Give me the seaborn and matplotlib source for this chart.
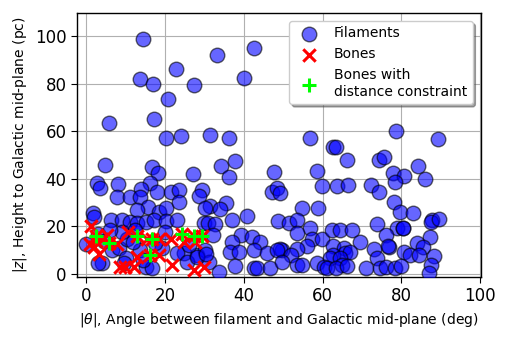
import numpy as np
import pandas as pd
import matplotlib
matplotlib.use("Agg")
import matplotlib.pyplot as plt
import seaborn as sns

# Filaments: |theta| (deg), |z| (pc)
fil_theta = [
    14.5, 42.5, 33.1, 22.8, 13.7, 17.1, 27.3, 40.0, 20.9, 17.2, 5.8, 20.3, 24.1, 31.5, 36.3, 56.7, 89.2, 78.7, 62.6, 63.5,
    4.7, 16.8, 18.3, 27.2, 34.2, 37.7, 36.3, 47.6, 66.1, 58.5, 74.3, 75.7, 84.2, 77.9, 80.6, 78.5, 86.0,
    2.8, 3.5, 8.2, 16.3, 14.0, 18.0, 21.6, 23.5, 29.4, 28.6, 47.1, 48.5, 49.2, 59.9, 63.8, 66.4, 72.2, 74.3,
    7.9, 11.1, 13.8, 15.7, 12.9, 18.5, 20.2, 23.5, 31.4, 30.3, 35.4, 34.1, 54.8, 58.8, 78.1, 79.6, 83.0,
    1.8, 2.1, 6.2, 9.1, 11.2, 12.9, 15.1, 17.3, 20.2, 23.1, 29.8, 31.0, 32.6, 37.1, 40.9, 48.7, 51.4, 53.4, 56.9,
    73.9, 87.8, 87.6, 89.5, 78.9, 80.5, 80.3,
    32.3, 39.4, 42.2, 44.2, 37.1, 53.6, 57.4, 59.9, 62.4, 64.5, 67.5, 69.5, 56.1, 53.4, 49.7, 49.2, 62.7, 65.4,
    76.0, 87.4, 76.8, 76.6, 84.0, 85.5, 73.0,
    36.6, 38.7, 42.6, 45.9, 48.5, 28.2, 30.3, 24.8, 31.1, 37.9, 42.6, 43.4, 46.8, 33.7, 52.0, 65.8, 67.1, 62.7,
    62.0, 64.5, 65.0, 73.9, 49.7, 53.6, 54.8, 58.5, 60.4, 61.2, 63.3, 66.2, 71.1, 74.6, 80.6, 82.3, 84.4, 88.4,
    76.0, 78.5, 79.8, 87.6, 87.0,
    0.0, 3.0, 4.5, 6.5, 8.3, 10.5, 13.6, 12.0, 10.2, 4.1, 3.1, 9.6, 15.1, 16.8, 14.5, 19.3, 23.0, 17.5, 20.0,
    9.0, 25.6, 28.2, 30.5, 26.0, 12.5, 6.0,
]
fil_z = [
    99.0, 95.2, 92.0, 86.1, 82.0, 80.0, 79.4, 82.3, 73.5, 65.3, 63.6, 57.0, 58.0, 58.4, 57.0, 57.0, 56.6, 60.3, 53.6, 53.6,
    45.9, 45.2, 42.3, 42.2, 45.6, 47.5, 40.6, 42.8, 48.1, 43.4, 48.1, 49.0, 45.4, 42.6, 41.2, 38.8, 39.8,
    38.4, 36.0, 37.8, 38.1, 35.6, 34.6, 34.6, 35.5, 35.3, 32.8, 34.6, 36.0, 34.2, 36.9, 36.9, 37.3, 37.3, 34.6,
    32.2, 32.5, 32.5, 28.3, 26.9, 26.2, 27.6, 30.3, 28.5, 27.6, 29.7, 27.2, 27.6, 27.6, 30.4, 26.2, 25.7,
    25.5, 23.8, 22.6, 22.6, 21.9, 21.3, 21.9, 22.6, 22.4, 22.9, 21.6, 21.6, 21.2, 22.6, 24.3, 22.4, 21.5, 22.9, 19.2,
    20.8, 22.6, 22.0, 23.3, 19.2, 19.2, 19.5,
    16.3, 16.3, 15.6, 13.5, 13.5, 17.1, 14.9, 14.8, 18.3, 18.3, 18.3, 13.5, 11.7, 10.3, 10.0, 10.5, 11.7, 11.0,
    16.3, 15.6, 11.4, 11.6, 13.1, 11.4, 10.5,
    9.3, 9.3, 10.0, 8.7, 10.0, 8.1, 10.0, 8.7, 5.0, 3.3, 2.3, 2.3, 2.3, 0.9, 7.9, 8.7, 9.3, 7.9,
    6.5, 6.5, 3.7, 6.5, 5.1, 3.7, 3.7, 4.7, 3.0, 2.3, 2.3, 3.3, 2.3, 2.3, 9.3, 8.0, 8.0, 7.7,
    3.0, 2.3, 3.3, 3.9, 0.5,
    12.4, 17.0, 14.0, 10.0, 10.7, 14.5, 10.0, 13.5, 6.5, 4.4, 4.7, 4.7, 3.0, 2.3, 6.0, 10.7, 8.6, 13.0, 17.5,
    17.5, 5.1, 7.2, 8.5, 12.0, 18.5, 18.5,
]

# Bones (includes those with distance constraint)
bone_theta = [1.3, 1.1, 2.1, 3.2, 5.3, 4.0, 7.9, 10.6, 8.7, 9.8, 12.1, 12.8, 15.5, 18.5, 18.5, 21.6, 21.8,
              24.8, 27.3, 29.9, 27.7, 2.5,
              2.6, 5.9, 12.8, 16.8, 16.3, 24.4, 27.3, 29.4]
bone_z = [20.3, 12.4, 11.4, 8.2, 16.3, 14.5, 12.4, 17.7, 3.0, 3.0, 3.0, 7.2, 14.9, 14.9, 7.9, 14.9, 3.7,
          13.5, 1.6, 3.0, 13.5, 14.0,
          16.0, 12.8, 16.0, 14.9, 7.9, 16.6, 16.0, 16.0]

# Bones with distance constraint
dc_theta = [2.6, 5.9, 12.8, 16.8, 16.3, 24.4, 27.3, 29.4]
dc_z = [16.0, 12.8, 16.0, 14.9, 7.9, 16.6, 16.0, 16.0]

fil = pd.DataFrame({"theta": fil_theta, "z": fil_z})
bones = pd.DataFrame({"theta": bone_theta, "z": bone_z})
dc = pd.DataFrame({"theta": dc_theta, "z": dc_z})

sns.set_style("ticks", {"axes.grid": True, "grid.color": "#b0b0b0", "axes.edgecolor": "black",
                        "xtick.color": "black", "ytick.color": "black", "text.color": "black",
                        "axes.labelcolor": "black"})
plt.rcParams["font.family"] = ["DejaVu Sans"]
plt.rcParams["grid.linewidth"] = 0.8

fig = plt.figure(figsize=(5.1, 3.4), dpi=100)
ax = fig.add_axes([0.151, 0.186, 0.792, 0.777])

sns.scatterplot(data=fil, x="theta", y="z", ax=ax, s=110, color="blue", alpha=0.6,
                edgecolor="black", linewidth=1.0, label="Filaments", zorder=3)
sns.scatterplot(data=bones, x="theta", y="z", ax=ax, s=80, color="red", marker="x",
                linewidth=2.2, label="Bones", zorder=4)
sns.scatterplot(data=dc, x="theta", y="z", ax=ax, s=90, color="#00ff00", marker="+",
                linewidth=2.2, label="Bones with\ndistance constraint", zorder=5)

ax.set_xlim(-2.3, 100.2)
ax.set_ylim(-1.2, 110)
ax.set_xticks([0, 20, 40, 60, 80, 100])
ax.set_yticks([0, 20, 40, 60, 80, 100])
ax.tick_params(labelsize=12, length=4)
ax.set_xlabel(r"$|\theta|$, Angle between filament and Galactic mid-plane (deg)", fontsize=10)
ax.set_ylabel(r"$|z|$, Height to Galactic mid-plane (pc)", fontsize=10)
for sp in ax.spines.values():
    sp.set_visible(True)
    sp.set_linewidth(1.0)

leg = ax.legend(loc="upper right", fontsize=10, frameon=True, shadow=True,
                fancybox=True, borderaxespad=0.6, markerscale=1.0)
leg.get_frame().set_edgecolor("0.8")

fig.savefig("out.png", dpi=100)
